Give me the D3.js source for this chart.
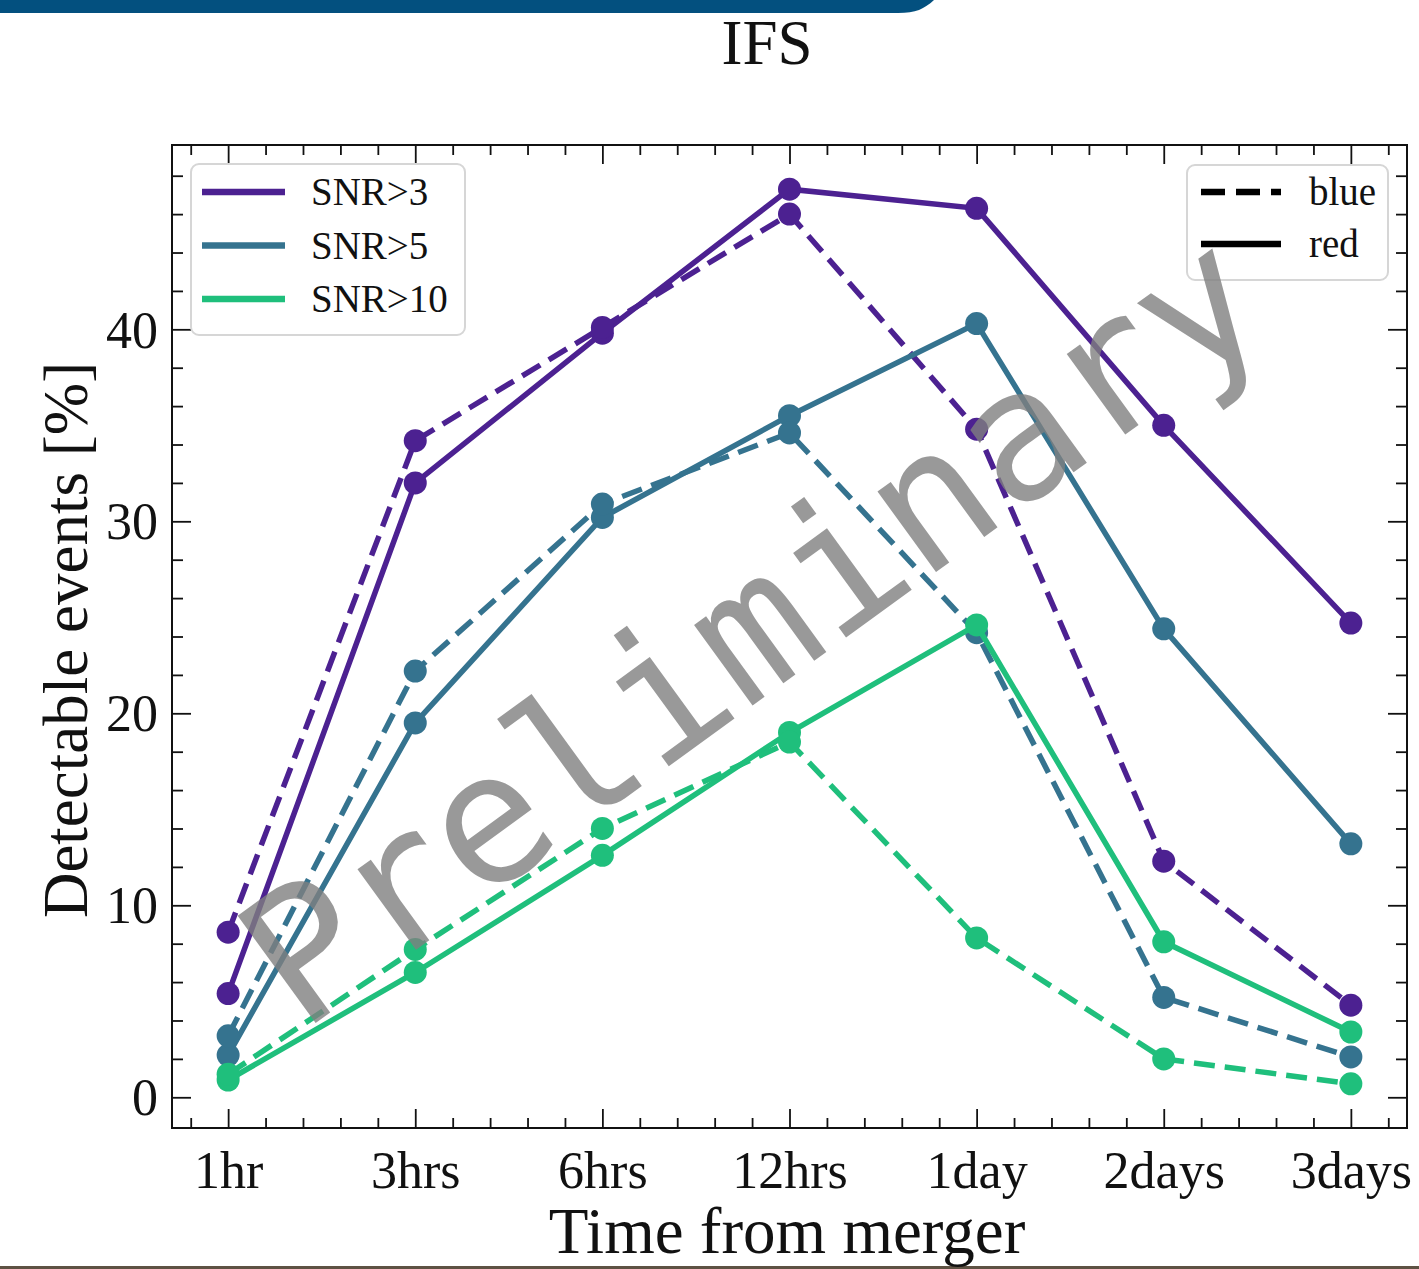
<!DOCTYPE html>
<html>
<head>
<meta charset="utf-8">
<script src="https://cdn.jsdelivr.net/npm/d3@7"></script>
<style>
  html, body { margin: 0; padding: 0; background: #ffffff; }
  svg { display: block; }
</style>
</head>
<body>
<svg id="chart" width="1419" height="1269"></svg>
<script>
// ---- Data ----
const categories = ["1hr", "3hrs", "6hrs", "12hrs", "1day", "2days", "3days"];
const snrLabels = ["SNR>3", "SNR>5", "SNR>10"];
const snrColors = ["#4c2191", "#35738f", "#1fbf7c"];
// "red" = solid lines, "blue" = dashed lines
const snr3Red  = [5.4, 32.0, 39.8, 47.3, 46.3, 35.0, 24.7];
const snr3Blue = [8.6, 34.2, 40.1, 46.0, 34.8, 12.3, 4.8];
const snr5Red  = [2.2, 19.5, 30.2, 35.5, 40.3, 24.4, 13.2];
const snr5Blue = [3.2, 22.2, 30.9, 34.6, 24.2, 5.2, 2.1];
const snr10Red  = [0.9, 6.5, 12.6, 19.0, 24.6, 8.1, 3.4];
const snr10Blue = [1.2, 7.7, 14.0, 18.5, 8.3, 2.0, 0.7];
const yTicks = [0, 10, 20, 30, 40];
const styleLabels = ["blue", "red"];

const seriesList = [
  { snr: 0, kind: "red",  values: snr3Red },
  { snr: 0, kind: "blue", values: snr3Blue },
  { snr: 1, kind: "red",  values: snr5Red },
  { snr: 1, kind: "blue", values: snr5Blue },
  { snr: 2, kind: "red",  values: snr10Red },
  { snr: 2, kind: "blue", values: snr10Blue }
];

// ---- Layout ----
const svg = d3.select("#chart");
const L = 172, R = 1407, T = 145, B = 1128;
const serif = "'Liberation Serif', 'DejaVu Serif', serif";

const x = d3.scaleLinear().domain([-0.3, 6.3]).range([L, R]);
const y = d3.scaleLinear().domain([-1.6, 49.6]).range([B, T]);

// Top banner
svg.append("path")
  .attr("d", "M0,0 L934,0 C924,9 916,13 898,13 L0,13 Z")
  .attr("fill", "#03507f");
// Bottom strip
svg.append("rect").attr("x", 0).attr("y", 1266).attr("width", 1419).attr("height", 3)
  .attr("fill", "#5e5243");

// Title
svg.append("text").attr("x", 767).attr("y", 64).attr("text-anchor", "middle")
  .attr("font-family", serif).attr("font-size", 63).attr("fill", "#111").text("IFS");

// ---- Axes (inward ticks on all sides) ----
const xMinor = d3.range(-0.2, 6.21, 0.2).filter(v => Math.abs(v - Math.round(v)) > 1e-6);
const yMinor = d3.range(0, 49, 2).filter(v => v % 10 !== 0);

function addAxis(axisGen, transform) {
  const g = svg.append("g").attr("transform", transform).call(axisGen);
  g.select(".domain").remove();
  g.selectAll("line").attr("stroke", "#111").attr("stroke-width", 1.8);
  return g;
}
// bottom
const xb = addAxis(d3.axisBottom(x).tickValues(d3.range(0, 7)).tickSize(-19).tickPadding(40)
  .tickFormat(i => categories[i]), `translate(0,${B})`);
xb.selectAll("text").attr("font-family", serif).attr("font-size", 52).attr("fill", "#111")
  .attr("dy", 0).attr("y", 60);
addAxis(d3.axisBottom(x).tickValues(xMinor).tickSize(-10).tickFormat(""), `translate(0,${B})`);
// top
addAxis(d3.axisTop(x).tickValues(d3.range(0, 7)).tickSize(-19).tickFormat(""), `translate(0,${T})`);
addAxis(d3.axisTop(x).tickValues(xMinor).tickSize(-10).tickFormat(""), `translate(0,${T})`);
// left
const yl = addAxis(d3.axisLeft(y).tickValues(yTicks).tickSize(-19).tickPadding(14)
  .tickFormat(d3.format("d")), `translate(${L},0)`);
yl.selectAll("text").attr("font-family", serif).attr("font-size", 52).attr("fill", "#111")
  .attr("dy", "0.34em").attr("x", -14);
addAxis(d3.axisLeft(y).tickValues(yMinor).tickSize(-11).tickFormat(""), `translate(${L},0)`);
// right
addAxis(d3.axisRight(y).tickValues(yTicks).tickSize(-19).tickFormat(""), `translate(${R},0)`);
addAxis(d3.axisRight(y).tickValues(yMinor).tickSize(-11).tickFormat(""), `translate(${R},0)`);

// frame
svg.append("rect").attr("x", L).attr("y", T).attr("width", R - L).attr("height", B - T)
  .attr("fill", "none").attr("stroke", "#111").attr("stroke-width", 2);

// Axis labels
svg.append("text").attr("x", 787).attr("y", 1253).attr("text-anchor", "middle")
  .attr("font-family", serif).attr("font-size", 65).attr("fill", "#111").text("Time from merger");
svg.append("text").attr("transform", "translate(87,640) rotate(-90)").attr("text-anchor", "middle")
  .attr("font-family", serif).attr("font-size", 63).attr("fill", "#111").text("Detectable events [%]");

// ---- Series ----
const lineGen = d3.line().x((d, i) => x(i)).y(d => y(d));
const plotG = svg.append("g");
seriesList.forEach(s => {
  const c = snrColors[s.snr];
  plotG.append("path").datum(s.values).attr("d", lineGen)
    .attr("fill", "none").attr("stroke", c).attr("stroke-width", 5.5)
    .attr("stroke-dasharray", s.kind === "blue" ? "21,10" : null);
  plotG.selectAll(null).data(s.values).enter().append("circle")
    .attr("cx", (d, i) => x(i)).attr("cy", d => y(d)).attr("r", 11.5).attr("fill", c);
});

// ---- Legends ----
// SNR legend
svg.append("rect").attr("x", 191).attr("y", 164).attr("width", 274).attr("height", 171)
  .attr("rx", 8).attr("fill", "#ffffff").attr("fill-opacity", 0.8)
  .attr("stroke", "#d6d6d6").attr("stroke-width", 2);
snrLabels.forEach((lab, i) => {
  const ly = 192 + i * 53.5;
  svg.append("line").attr("x1", 202).attr("x2", 285).attr("y1", ly).attr("y2", ly)
    .attr("stroke", snrColors[i]).attr("stroke-width", 6.5);
  svg.append("text").attr("x", 311).attr("y", ly + 13).attr("font-family", serif)
    .attr("font-size", 39).attr("fill", "#111").text(lab);
});
// style legend
svg.append("rect").attr("x", 1187).attr("y", 165).attr("width", 201).attr("height", 115)
  .attr("rx", 8).attr("fill", "#ffffff").attr("fill-opacity", 0.8)
  .attr("stroke", "#d6d6d6").attr("stroke-width", 2);
styleLabels.forEach((lab, i) => {
  const ly = 192 + i * 52;
  svg.append("line").attr("x1", 1201).attr("x2", 1281).attr("y1", ly).attr("y2", ly)
    .attr("stroke", "#000").attr("stroke-width", 6.5)
    .attr("stroke-dasharray", lab === "blue" ? "24,11" : null);
  svg.append("text").attr("x", 1309).attr("y", ly + 13).attr("font-family", serif)
    .attr("font-size", 39).attr("fill", "#111").text(lab);
});

// ---- Watermark ----
svg.append("text").attr("transform", "translate(752,628) rotate(-36)")
  .attr("text-anchor", "middle").attr("dominant-baseline", "central")
  .attr("font-family", "'DejaVu Sans Mono', monospace").attr("font-size", 182)
  .attr("fill", "#808080").attr("fill-opacity", 0.8).text("Preliminary");
</script>
</body>
</html>
